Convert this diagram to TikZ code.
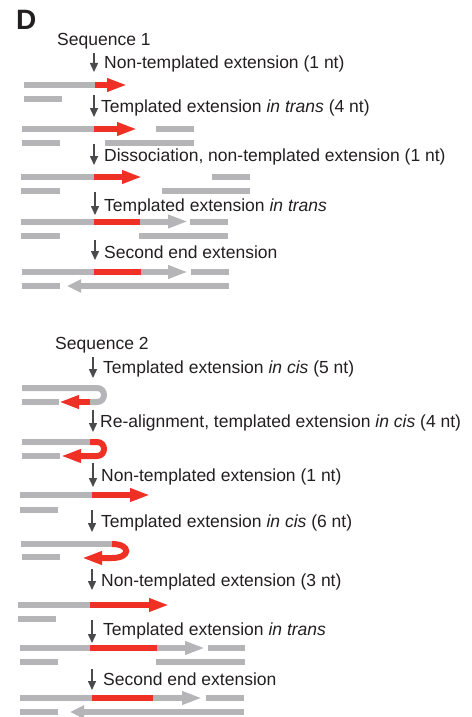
\documentclass[tikz,border=0pt]{standalone}
\usepackage{fontspec}
\setmainfont{Liberation Sans}
\usetikzlibrary{arrows.meta}
\definecolor{bargray}{HTML}{B5B5B8}
\definecolor{dnared}{HTML}{EE3124}
\definecolor{arrgray}{HTML}{4A4A4C}
\definecolor{txt}{HTML}{231F20}
\begin{document}
\begin{tikzpicture}[x=1pt,y=-1pt,
  bar/.style={line width=6pt,bargray},
  redbar/.style={line width=6pt,dnared},
  redarr/.style={line width=6pt,dnared,-{Triangle[length=20pt,width=12.5pt]}},
  grayarr/.style={line width=6pt,bargray,-{Triangle[length=20pt,width=12.5pt]}},
  backarr/.style={line width=6pt,bargray,-{Triangle[length=14pt,width=12.5pt]}},
  darr/.style={line width=1.5pt,arrgray,-{Triangle[length=9pt,width=8pt]}},
  lab/.style={anchor=base west,inner sep=0pt,font=\fontsize{17.5}{20}\selectfont,text=txt}]
\useasboundingbox (0,0) rectangle (471,717);

% panel letter and headings
\node[anchor=base west,inner sep=0pt,font=\fontsize{28}{30}\selectfont\bfseries,text=txt] (D) at (16,30) {D};
\node[lab] (seq1) at (57,46) {Sequence 1};
\node[lab] (seq2) at (55,349) {Sequence 2};

% step labels
\node[lab] (t1) at (104,68) {Non-templated extension (1 nt)};
\node[lab] (t2) at (101,112) {Templated extension \textit{in trans} (4 nt)};
\node[lab] (t3) at (104,161) {Dissociation, non-templated extension (1 nt)};
\node[lab] (t4) at (104,211) {Templated extension \textit{in trans}};
\node[lab] (t5) at (104,258) {Second end extension};
\node[lab] (t6) at (103,373) {Templated extension \textit{in cis} (5 nt)};
\node[lab] (t7) at (100,427) {Re-alignment, templated extension \textit{in cis} (4 nt)};
\node[lab] (t8) at (101,481) {Non-templated extension (1 nt)};
\node[lab] (t9) at (101,527) {Templated extension \textit{in cis} (6 nt)};
\node[lab] (t10) at (101,586) {Non-templated extension (3 nt)};
\node[lab] (t11) at (103,635) {Templated extension \textit{in trans}};
\node[lab] (t12) at (103,685) {Second end extension};

% step arrows
\coordinate (a1s) at (94,53);  \coordinate (a1e) at (94,72);
\coordinate (a2s) at (94,95);  \coordinate (a2e) at (94,117);
\coordinate (a3s) at (94,144); \coordinate (a3e) at (94,165);
\coordinate (a4s) at (95,192); \coordinate (a4e) at (95,215);
\coordinate (a5s) at (95,240); \coordinate (a5e) at (95,260);
\coordinate (a6s) at (93,357); \coordinate (a6e) at (93,378);
\coordinate (a7s) at (93,410); \coordinate (a7e) at (93,432);
\coordinate (a8s) at (93,463); \coordinate (a8e) at (93,487);
\coordinate (a9s) at (92,510); \coordinate (a9e) at (92,532);
\coordinate (a10s) at (92,569); \coordinate (a10e) at (92,590);
\coordinate (a11s) at (92,620); \coordinate (a11e) at (92,643);
\coordinate (a12s) at (92,669); \coordinate (a12e) at (92,690);
\foreach \i in {1,...,12}{\draw[darr] (a\i s) -- (a\i e);}

% ---------- Sequence 1 ----------
% row 1
\draw[bar] (24,85) -- (95,85);
\draw[redarr] (95,85) -- (127,85);
\draw[bar] (24,99) -- (62,99);
% row 2
\draw[bar] (22,129) -- (94,129);
\draw[redarr] (94,129) -- (137,129);
\draw[bar] (156,129) -- (194,129);
\draw[bar] (22,143) -- (60,143);
\draw[bar] (105,143) -- (194,143);
% row 3
\draw[bar] (21,177) -- (94,177);
\draw[redarr] (94,177) -- (142,177);
\draw[bar] (212,177) -- (250,177);
\draw[bar] (21,191) -- (60,191);
\draw[bar] (162,191) -- (250,191);
% row 4
\draw[bar] (21,221.5) -- (94,221.5);
\draw[redbar] (94,221.5) -- (140,221.5);
\draw[grayarr] (140,221.5) -- (188,221.5);
\draw[bar] (190,221.5) -- (228,221.5);
\draw[bar] (21,236) -- (60,236);
\draw[bar] (139,236) -- (228,236);
% row 5
\draw[bar] (22,272) -- (94,272);
\draw[redbar] (94,272) -- (141,272);
\draw[grayarr] (141,272) -- (188,272);
\draw[bar] (191,272) -- (229,272);
\draw[bar] (22,286) -- (60,286);
\draw[backarr] (229,286) -- (67,286);

% ---------- Sequence 2 ----------
% hairpin 1
\draw[bar] (22,388) -- (97,388) .. controls (106.3,388) and (106.3,402) .. (97,402) -- (90,402);
\draw[redarr] (90,402) -- (59,402);
\draw[bar] (22,402) -- (59,402);
% hairpin 2
\draw[bar] (22,442) -- (90,442);
\draw[redarr] (90,442) -- (97,442) .. controls (106.3,442) and (106.3,456) .. (97,456) -- (61,456);
\draw[bar] (22,456) -- (60,456);
% row NT 1
\draw[bar] (20,495) -- (92,495);
\draw[redarr] (92,495) -- (150,495);
\draw[bar] (20,510) -- (58,510);
% hairpin 3
\draw[bar] (21,544) -- (112,544);
\draw[redarr] (112,544) .. controls (131,544) and (131,558) .. (112,558) -- (82,558);
\draw[bar] (22,557) -- (60,557);
% row NT 3
\draw[bar] (18,605) -- (90,605);
\draw[redarr] (90,605) -- (169,605);
\draw[bar] (18,619) -- (56,619);
% row trans
\draw[bar] (20,648) -- (90,648);
\draw[redbar] (90,648) -- (157,648);
\draw[grayarr] (157,648) -- (205,648);
\draw[bar] (208,648) -- (245,648);
\draw[bar] (20,662) -- (58,662);
\draw[bar] (156,662) -- (245,662);
% row second end
\draw[bar] (20,698) -- (92,698);
\draw[redbar] (92,698) -- (153,698);
\draw[grayarr] (153,698) -- (202,698);
\draw[bar] (206,698) -- (244,698);
\draw[bar] (20,712) -- (58,712);
\draw[backarr] (244,712) -- (70,712);
\end{tikzpicture}
\end{document}
